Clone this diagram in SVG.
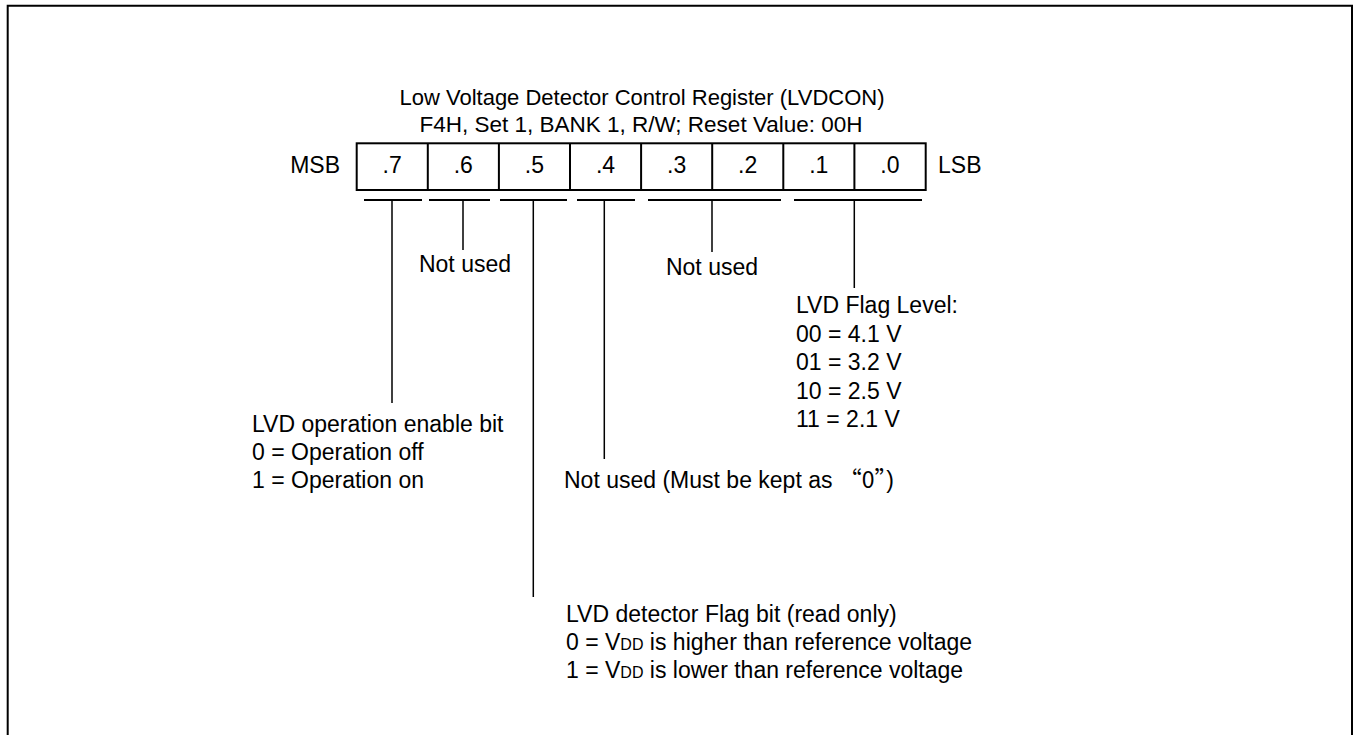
<svg xmlns="http://www.w3.org/2000/svg" width="1354" height="735" viewBox="0 0 1354 735">
<style>
text{font-family:"Liberation Sans",Arial,sans-serif;font-size:23px;fill:#000}
.c{text-anchor:middle}
.box{fill:none;stroke:#000;stroke-width:2}
.ul{stroke:#000;stroke-width:2}
.vl{stroke:#000;stroke-width:1.5}
.q{font-family:"Noto Sans CJK SC","Liberation Sans",sans-serif}
.sm{font-size:16px}
</style>
<rect width="1354" height="735" fill="#fff"/>
<path d="M7.7,740 V5.8 H1352 V740" fill="none" stroke="#000" stroke-width="2"/>
<g id="title">
<text class="c" x="642" y="105" style="font-size:22px">Low Voltage Detector Control Register (LVDCON)</text>
<text class="c" x="641" y="132" style="font-size:22.5px">F4H, Set 1, BANK 1, R/W; Reset Value: 00H</text>
</g>
<g id="register">
<rect class="box" x="356.7" y="143.3" width="569" height="46.7"/>
<path class="box" d="M427.8,143.3V190M498.9,143.3V190M570,143.3V190M641.1,143.3V190M712.2,143.3V190M783.3,143.3V190M854.4,143.3V190"/>
<text x="340" y="173" text-anchor="end">MSB</text>
<text x="938" y="173">LSB</text>
<text class="c" x="392.2" y="173">.7</text>
<text class="c" x="463.3" y="173">.6</text>
<text class="c" x="534.4" y="173">.5</text>
<text class="c" x="605.5" y="173">.4</text>
<text class="c" x="676.6" y="173">.3</text>
<text class="c" x="747.7" y="173">.2</text>
<text class="c" x="818.8" y="173">.1</text>
<text class="c" x="889.9" y="173">.0</text>
</g>
<g id="connectors">
<path class="ul" d="M364,200H422M429,200H490M500,200H567M577,200H635M648,200H781M794,200H922"/>
<path class="vl" d="M392,200V403M463,200V250M533.3,200V597M604.3,200V459M712,200V252M854.3,200V288"/>
</g>
<g id="bit7">
<text x="252" y="432">LVD operation enable bit</text>
<text x="252" y="460">0 = Operation off</text>
<text x="252" y="488">1 = Operation on</text>
</g>
<g id="bit6">
<text class="c" x="465" y="272">Not used</text>
</g>
<g id="bit5">
<text x="566" y="622">LVD detector Flag bit (read only)</text>
<text x="566" y="650">0 = V<tspan class="sm">DD</tspan> is higher than reference voltage</text>
<text x="566" y="678">1 = V<tspan class="sm">DD</tspan> is lower than reference voltage</text>
</g>
<g id="bit4">
<text x="564" y="488">Not used (Must be kept as <tspan class="q">“0”</tspan>)</text>
</g>
<g id="bit32">
<text class="c" x="712" y="275">Not used</text>
</g>
<g id="bit10">
<text x="796" y="313">LVD Flag Level:</text>
<text x="796" y="341.5">00 = 4.1 V</text>
<text x="796" y="370">01 = 3.2 V</text>
<text x="796" y="398.5">10 = 2.5 V</text>
<text x="796" y="427">11 = 2.1 V</text>
</g>
</svg>
